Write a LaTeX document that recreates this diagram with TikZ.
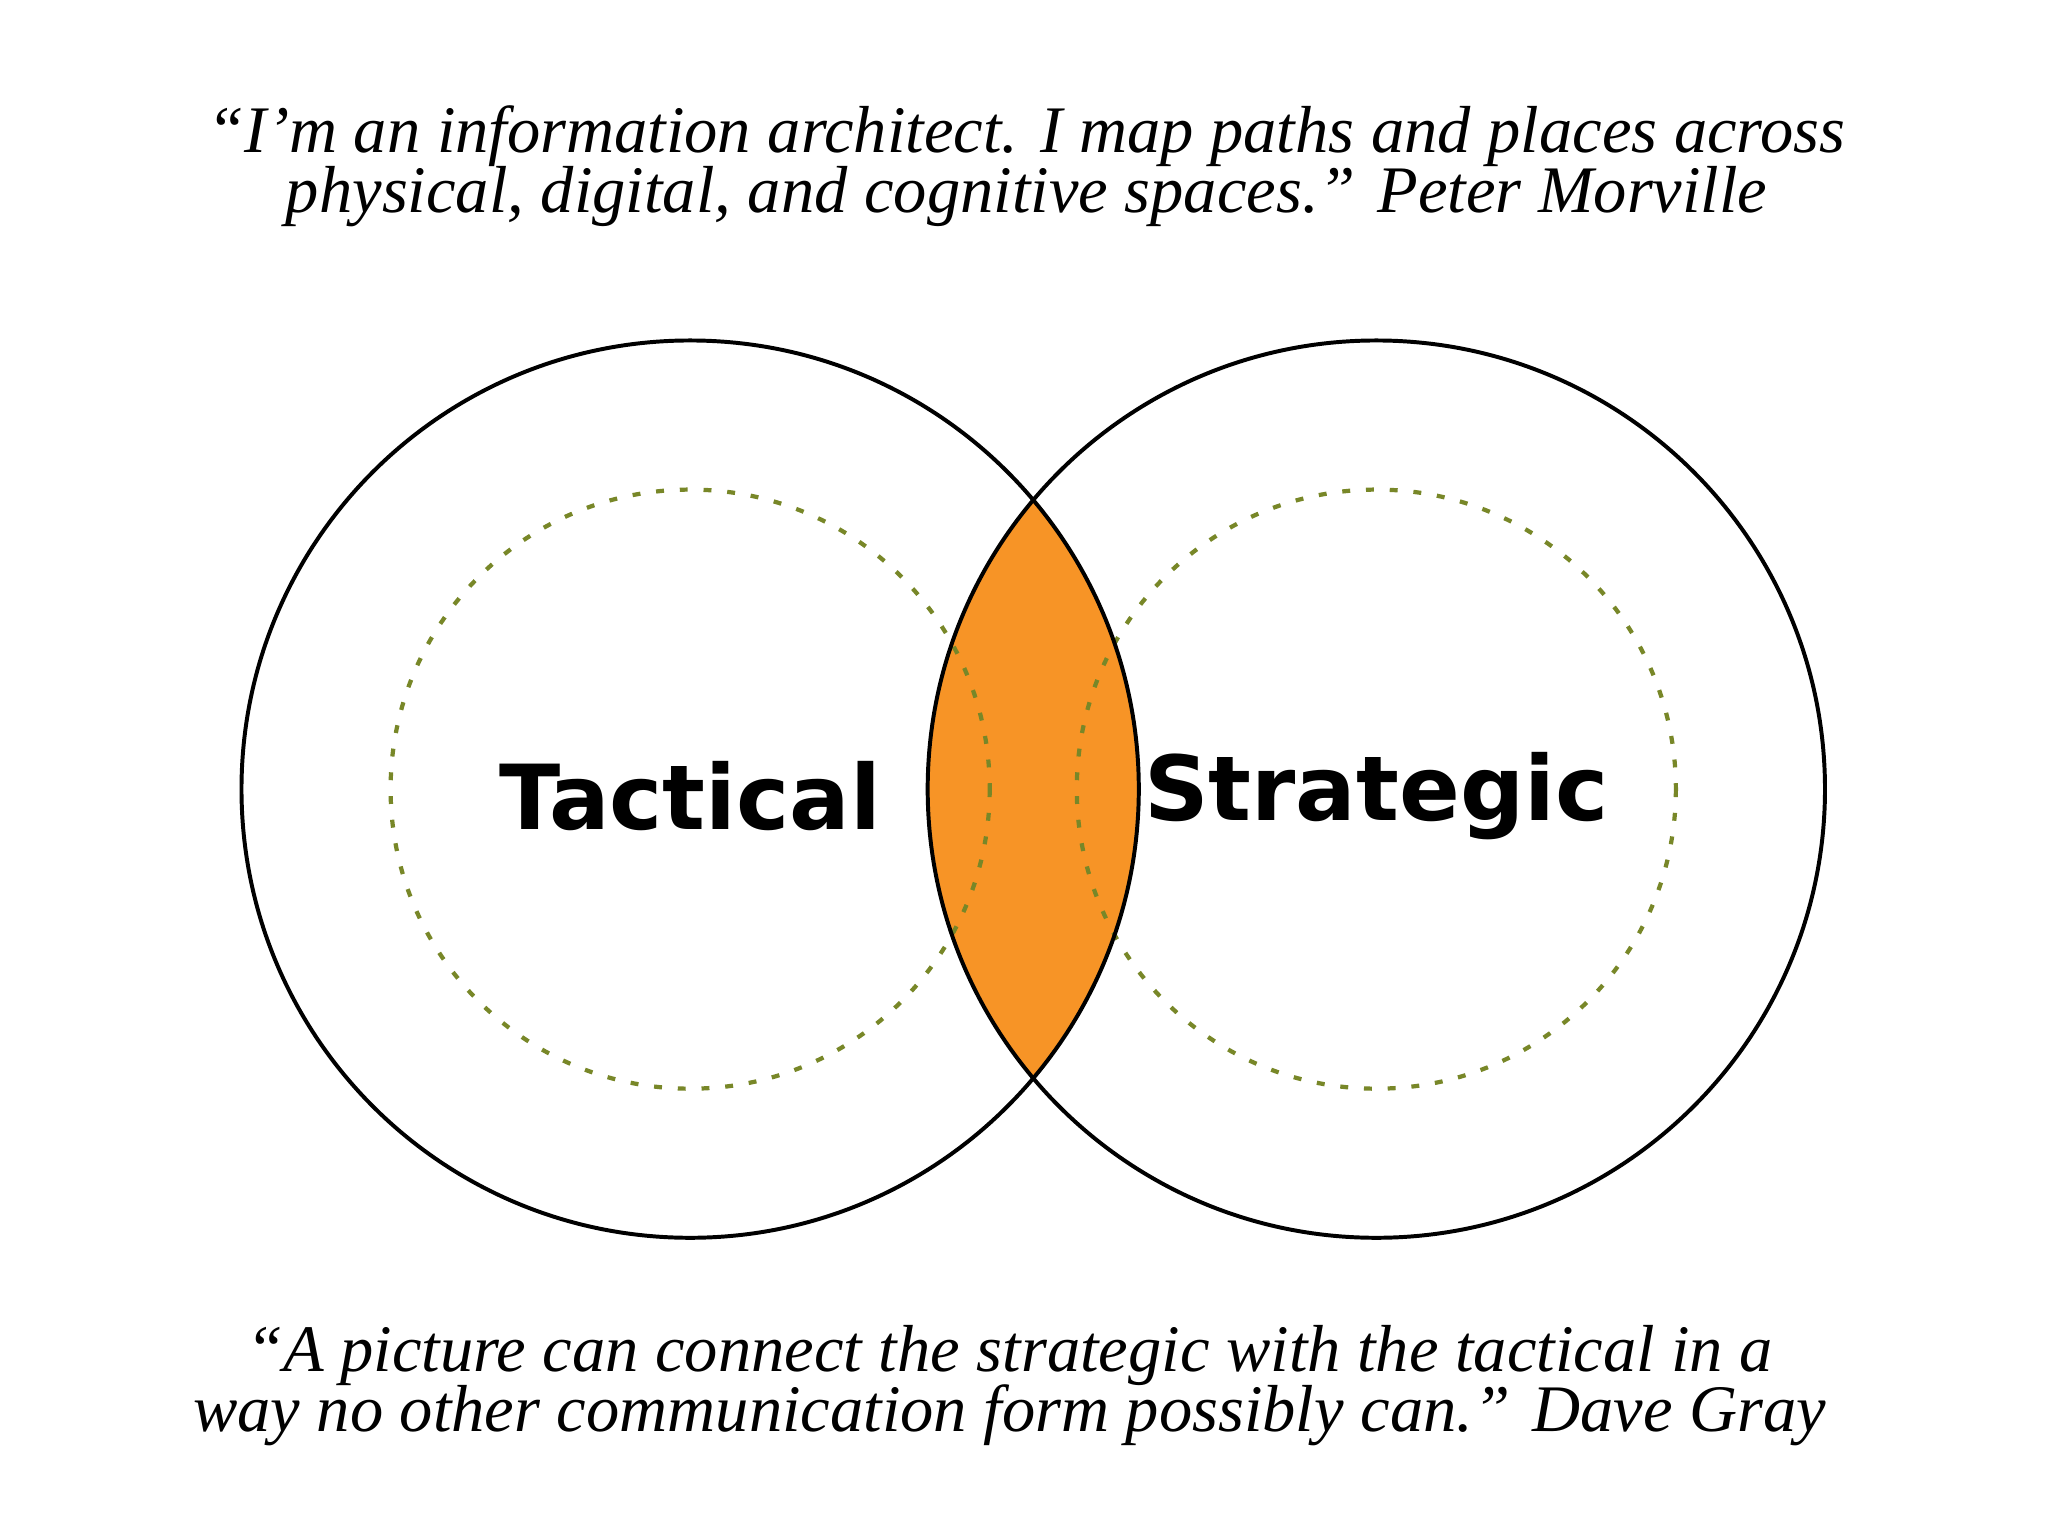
\documentclass[tikz,border=0pt]{standalone}
\usepackage{fontspec}
\setmainfont{Liberation Serif}
\newfontfamily\labfont{DejaVu Sans}
\begin{document}
\begin{tikzpicture}[x=0.5pt,y=-0.5pt,
  quote/.style={font=\itshape\fontsize{25.2}{25}\selectfont,align=center},
  lab/.style={font=\labfont\fontsize{34}{38}\selectfont},
  dashc/.style={line width=1.6pt,dash pattern=on 3pt off 6pt,color={rgb,255:red,120;green,135;blue,40}}]
\useasboundingbox (0,0) rectangle (1552,1164);
\fill[white] (0,0) rectangle (1552,1164);
\begin{scope}
\clip (523,598) circle (340);
\fill[fill={rgb,255:red,247;green,148;blue,38}] (1043,598) circle (340);
\end{scope}
\draw[dashc] (523,598) circle (227);
\draw[dashc] (1043,598) circle (227);
\draw[line width=1.5pt] (523,598) circle (340);
\draw[line width=1.5pt] (1043,598) circle (340);
\node[lab] (tac) at (523,603) {\textbf{Tactical}};
\node[lab] (str) at (1043,603) {\textbf{Strategic}};
\node[quote] (q1) at (778,126) {“I’m an information architect. I map paths and places across\\[-2pt]physical, digital, and cognitive spaces.” Peter Morville};
\node[quote] (q2) at (765,1050) {“A picture can connect the strategic with the tactical in a\\[-2pt]way no other communication form possibly can.” Dave Gray};
\end{tikzpicture}
\end{document}
